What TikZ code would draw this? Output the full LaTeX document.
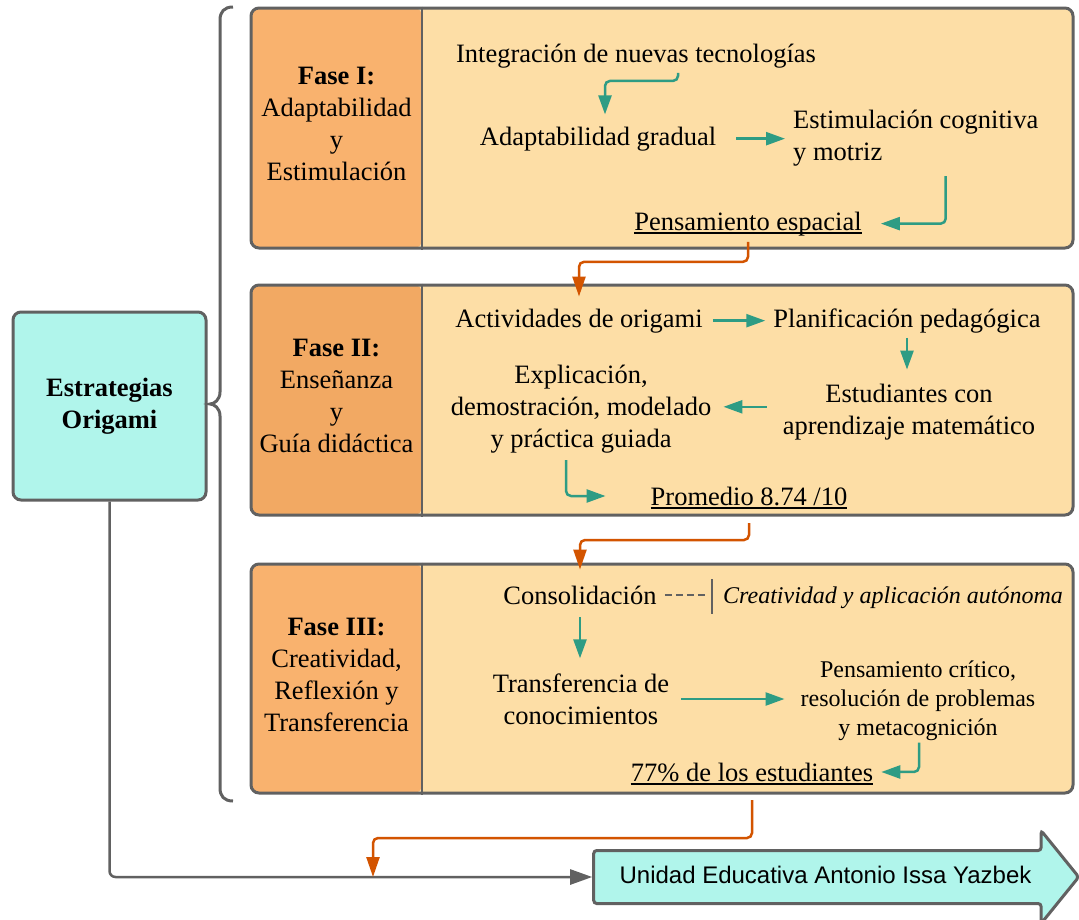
\documentclass[tikz,border=0pt]{standalone}
\usepackage{fontspec}
\setmainfont{Liberation Serif}
\setsansfont{Liberation Sans}
\usetikzlibrary{arrows.meta, positioning, shapes.arrows, calc}

\definecolor{edge}{HTML}{616161}
\definecolor{content}{HTML}{FDDEA6}
\definecolor{faseA}{HTML}{F9B26E}
\definecolor{faseB}{HTML}{F2A963}
\definecolor{aqua}{HTML}{B0F5EB}
\definecolor{flowc}{HTML}{2E9C84}
\definecolor{rust}{HTML}{D35400}

\newcommand{\bigtxt}{\fontsize{26.5}{32}\selectfont}
\newcommand{\smalltxt}{\fontsize{24}{29}\selectfont}

\begin{document}
\begin{tikzpicture}[x=1pt, y=-1pt,
    root/.style={draw=edge, line width=3pt, rounded corners=8pt, fill=aqua, minimum width=193pt, minimum height=188pt, font=\bigtxt\bfseries, align=center, inner sep=0pt},
    phase/.style={draw=edge, line width=3pt, rounded corners=8pt, fill=content, minimum width=822pt, inner sep=0pt,
        path picture={\fill[#1] (path picture bounding box.north west) rectangle ([xshift=171pt]path picture bounding box.south west);}},
    lbl/.style={align=center, font=\bigtxt, inner sep=0pt},
    txt/.style={align=center, font=\bigtxt, inner sep=0pt},
    small/.style={align=center, font=\smalltxt, inner sep=0pt},
    goal/.style={single arrow, draw=edge, line width=3pt, fill=aqua, rounded corners=3pt, font=\sffamily\fontsize{24}{28}\selectfont,
        text height=17pt, text depth=5pt, inner ysep=14pt, inner xsep=0pt, minimum height=485pt,
        single arrow head extend=20pt, single arrow tip angle=102, single arrow head indent=0pt},
    flow/.style={draw=flowc, line width=2.5pt, rounded corners=5pt, -{Triangle[length=19pt, width=13pt]}},
    link/.style={draw=rust, line width=2.5pt, rounded corners=5pt, -{Triangle[length=20pt, width=13pt]}},
    feed/.style={draw=edge, line width=2.5pt, rounded corners=6pt, -{Triangle[length=22pt, width=15pt]}},
    uline/.style={line width=1.4pt},
    divider/.style={draw=edge, line width=2pt}]

\useasboundingbox (0,0) rectangle (1079,919);
\fill[white] (0,0) rectangle (1079,919);
\clip (0,0) rectangle (1079,919);

% Root box and brace
\node[root] (orig) at (109.5,406) {Estrategias\\Origami};
\draw[edge, line width=3pt] (233,7) .. controls (224,7) and (220,12) .. (220,20) -- (220,392)
    .. controls (220,400) and (214,404) .. (210,404) .. controls (214,404) and (220,408) .. (220,416)
    -- (220,788) .. controls (220,796) and (224,801) .. (233,801);

% Phase boxes
\node[phase=faseA, minimum height=240pt] (p1) at (662,128) {};
\node[phase=faseB, minimum height=230pt] (p2) at (662,400) {};
\node[phase=faseA, minimum height=229pt] (p3) at (662,678.5) {};
\foreach \p in {p1,p2,p3}
  \draw[divider] ([xshift=172.5pt]\p.north west) -- ([xshift=172.5pt]\p.south west);

\node[lbl, yshift=4pt] (f1) at ([xshift=87pt]p1.west) {\textbf{Fase I:}\\Adaptabilidad\\y\\Estimulación};
\node[lbl, yshift=4pt] (f2) at ([xshift=87pt]p2.west) {\textbf{Fase II:}\\Enseñanza\\y\\Guía didáctica};
\node[lbl, yshift=4pt] (f3) at ([xshift=87pt]p3.west) {\textbf{Fase III:}\\Creatividad,\\Reflexión y\\Transferencia};

% Phase I
\node[txt, anchor=base] (integ) at (636,62) {Integración de nuevas tecnologías};
\node[txt, anchor=base] (adapt) at (598,145) {Adaptabilidad gradual};
\node[txt, align=left, anchor=west] (estim) at (793,137.8) {Estimulación cognitiva\\y motriz};
\node[txt, anchor=base] (pens) at (748,230) {Pensamiento espacial};

\draw[flow] ([xshift=42pt,yshift=-5pt]integ.south) -- ++(0,8) -| ([xshift=7pt,yshift=12pt]adapt.north);
\draw[flow] ([xshift=20pt]adapt.east) -- ([xshift=-8pt]adapt.east -| estim.west);
\draw[flow] ([xshift=30pt,yshift=-10pt]estim.south) |- ([xshift=19pt]pens.east);

% Phase II
\node[txt, anchor=base] (activ) at (579,327) {Actividades de origami};
\node[txt, anchor=base] (plan) at (907,327) {Planificación pedagógica};
\node[txt] (estud) at (909,411.8) {Estudiantes con\\aprendizaje matemático};
\node[txt] (expl) at (581,408.8) {Explicación,\\demostración, modelado\\y práctica guiada};
\node[txt, anchor=base] (prom) at (749,505) {Promedio 8.74 /10};

\draw[flow] ([xshift=10pt]activ.east) -- ([xshift=-8pt]activ.east -| plan.west);
\draw[flow] ([yshift=-5pt]plan.south) -- ([yshift=14pt]plan.south |- estud.north);
\draw[flow] ([xshift=-16pt,yshift=5pt]estud.west) -- ([xshift=12pt,yshift=5pt]estud.west -| expl.east);
\draw[flow] ([xshift=-15pt,yshift=-7pt]expl.south) |- ([xshift=-45pt]prom.west);

% Phase III
\node[txt, anchor=base] (conso) at (580,604) {Consolidación};
\node[small, anchor=base west, font=\smalltxt\itshape] (nota) at (723,603) {Creatividad y aplicación autónoma};
\node[txt] (trans) at (581,699) {Transferencia de\\conocimientos};
\node[small] (pensc) at (918,700.4) {Pensamiento crítico,\\resolución de problemas\\y metacognición};
\node[txt, anchor=base] (stud77) at (752,781) {77\% de los estudiantes};

\coordinate (bar) at ([xshift=-11pt]nota.west);
\draw[edge, line width=2pt] ([yshift=18pt]bar) -- ([yshift=-17pt]bar);
\draw[edge, line width=2pt, dash pattern=on 7pt off 4pt] ([xshift=8pt]conso.east) -- ([xshift=-4pt]conso.east -| bar);
\draw[flow] ([yshift=-13pt]conso.south) -- ([yshift=15pt]conso.south |- trans.north);
\draw[flow] ([xshift=12pt]trans.east) -- ([xshift=-16pt]trans.east -| pensc.west);
\draw[flow] ([xshift=1pt,yshift=-2pt]pensc.south) |- ([xshift=8pt]stud77.east);

% Underlined results
\foreach \n in {pens, prom, stud77}
  \draw[uline] ([yshift=-3pt]\n.base west) -- ([yshift=-3pt]\n.base east);

% Links between phases
\draw[link] ([yshift=-6pt]pens.south) -- ++(0,20) -| ([yshift=-13pt]activ.north |- p2.north);
\draw[link] ([yshift=-6.5pt]prom.south |- p2.south) -- ++(0,17) -| ([yshift=-7pt]conso.north |- p3.north);

% Goal arrow
\node[goal] (unidad) at (825.5,877) {Unidad Educativa Antonio Issa Yazbek};
\coordinate (merge) at (373,877);
\draw[feed] (orig.south) |- (unidad.west);
\draw[link] ([yshift=-5.5pt]stud77.south |- p3.south) -- ++(0,38) -| (merge);

\end{tikzpicture}
\end{document}
